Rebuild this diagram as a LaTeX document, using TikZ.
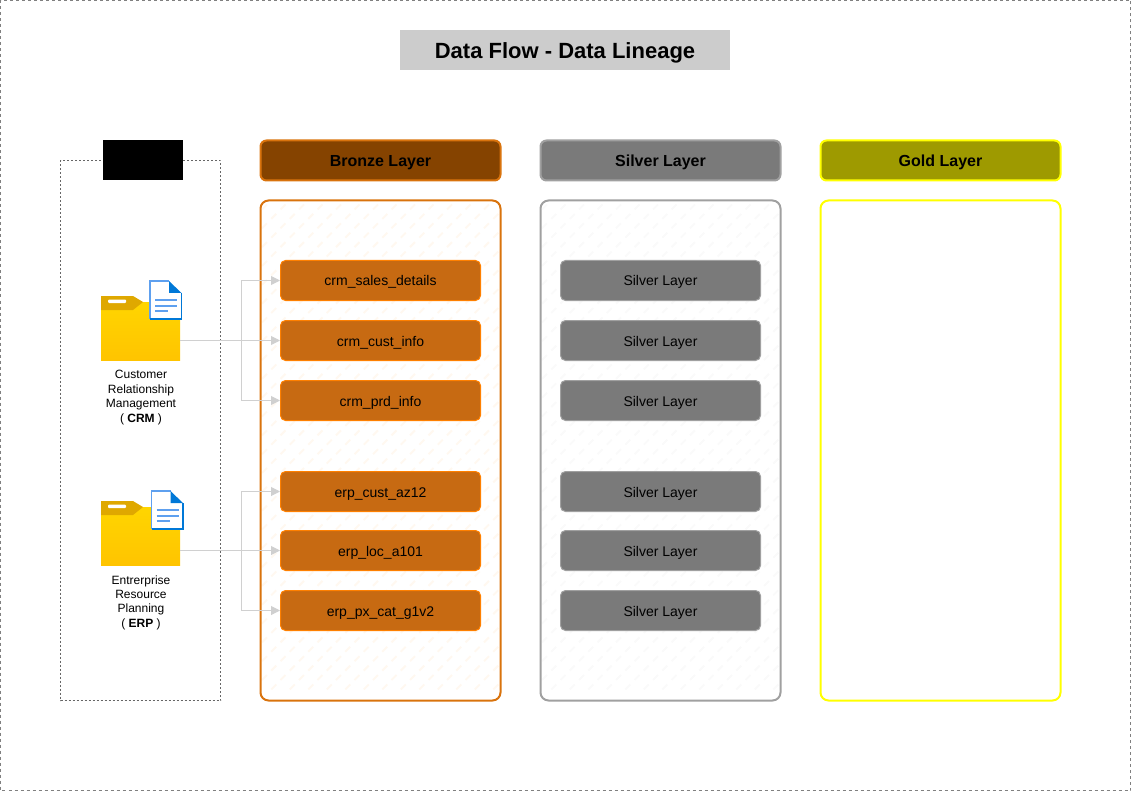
\documentclass[tikz,border=0pt]{standalone}
\usepackage{fontspec}
\setmainfont{Liberation Sans}
\usetikzlibrary{positioning}
\usetikzlibrary{arrows.meta}
\definecolor{bronzefill}{HTML}{854300}
\definecolor{bronzeitem}{HTML}{C76A12}
\definecolor{bronzeline}{HTML}{D9730D}
\definecolor{silverfill}{HTML}{7A7A7A}
\definecolor{silverline}{HTML}{A0A0A0}
\definecolor{goldfill}{HTML}{9E9A00}
\definecolor{goldline}{HTML}{FFFF00}
\definecolor{flowgray}{HTML}{D0D0D0}
\definecolor{tabgold}{HTML}{DFA800}
\definecolor{foldertop}{HTML}{FFD500}
\definecolor{folderlow}{HTML}{FFC400}
\definecolor{docblue}{HTML}{0078D7}
\definecolor{lineblue}{HTML}{5EA0EF}
\definecolor{hatchbronze}{HTML}{FFF8F0}
\definecolor{hatchsilver}{HTML}{FAFAFA}
\tikzset{
  layerhead/.style={draw,line width=2pt,rounded corners=6pt,minimum width=240pt,minimum height=40pt,inner sep=0pt,text height=12pt,text depth=0pt,font=\fontsize{16}{19}\selectfont\bfseries},
  layerpanel/.style={draw,line width=2pt,rounded corners=8pt,minimum width=240pt,minimum height=500pt,inner sep=0pt},
  bronzeitembox/.style={draw=orange,fill=bronzeitem,line width=1pt,rounded corners=5pt,minimum width=200pt,minimum height=40pt,inner sep=0pt,text height=11pt,text depth=0pt,font=\fontsize{14}{17}\selectfont},
  silveritembox/.style={draw=silverline,fill=silverfill,line width=1pt,rounded corners=5pt,minimum width=200pt,minimum height=40pt,inner sep=0pt,text height=11pt,text depth=0pt,font=\fontsize{14}{17}\selectfont},
  flow/.style={draw=flowgray,line width=1pt,-{Triangle[length=9pt,width=9pt]}},
  folderbox/.style={minimum width=79pt,minimum height=64pt,inner sep=0pt},
  sourcetext/.style={align=center,font=\fontsize{12}{14.4}\selectfont},
}
% folder icon: folder top left x,y then document top left x,y
\newcommand{\foldericon}[4]{
  \begin{scope}[shift={(#1,#2)}]
    \shade[top color=foldertop,bottom color=folderlow] (0,6) -- (79,6) -- (79,64) -- (0,64) -- cycle;
    \fill[tabgold] (0,0) -- (32,0) -- (42,6) -- (32,14) -- (0,14) -- cycle;
    \fill[white,rounded corners=1pt] (7,3.5) rectangle (25,7);
  \end{scope}
  \begin{scope}[shift={(#3,#4)}]
    \fill[white] (0,0) -- (19,0) -- (31.5,12) -- (31.5,38) -- (0,38) -- cycle;
    \draw[lineblue,line width=1.5pt] (19,0) -- (0,0) -- (0,38);
    \draw[docblue,line width=1.5pt] (0,38) -- (31.5,38) -- (31.5,12);
    \fill[docblue] (19,0) -- (31.5,12) -- (19,12) -- cycle;
    \draw[lineblue,line width=2pt] (5,19) -- (27,19) (5,24.5) -- (27,24.5) (5,30) -- (18,30);
  \end{scope}
}
% light hatch inside a panel, every other row set off by half a step
\newcommand{\panelhatch}[2]{
  \foreach \j [evaluate=\j as \off using {9.25*mod(\j,2)}] in {0,...,51}
    \foreach \i in {0,...,12}
      \draw[#2,line width=2pt] (#1+\off+18.5*\i-2.5,207+9.41*\j+2.5) -- ++(5,-5);
}
\begin{document}
\begin{tikzpicture}[x=1pt,y=-1pt]
  \useasboundingbox (0,0) rectangle (1131,791);
  \draw[gray,line width=1pt,dash pattern=on 3pt off 3pt] (0.5,0.5) rectangle (1130.5,790.5);

  \node[fill=black!20,minimum width=330pt,minimum height=40pt,inner sep=0pt,text height=16pt,text depth=0pt,font=\fontsize{22}{26}\selectfont\bfseries] (title) at (565,50.5) {Data Flow - Data Lineage};

  % sources
  \draw[black!60,line width=0.75pt,dash pattern=on 2pt off 2pt] (60.5,160.5) rectangle (220.5,700.5);
  \node[fill=black,minimum width=80pt,minimum height=40pt,inner sep=0pt] (sources) at (143,160.5) {};

  % layers
  \foreach \x/\name/\label/\stroke/\body in {380/bronze/Bronze Layer/bronzeline/bronzefill, 660/silver/Silver Layer/silverline/silverfill, 940/gold/Gold Layer/goldline/goldfill}
    \node[layerhead,draw=\stroke,fill=\body] (\name head) at (\x+0.5,160.5) {\label};

  \panelhatch{264.5}{hatchbronze}
  \panelhatch{544.5}{hatchsilver}
  \foreach \x/\name/\stroke in {380/bronze/bronzeline, 660/silver/silverline, 940/gold/goldline}
    \node[layerpanel,draw=\stroke] (\name panel) at (\x+0.5,450.5) {};

  % folders
  \node[folderbox] (crmfolder) at (140.5,328) {};
  \node[folderbox] (erpfolder) at (140.5,533) {};
  \foldericon{101}{296}{150}{281}
  \foldericon{101}{501}{151.5}{491}
  \node[sourcetext] (crmtext) at (141,397.5) {Customer\\Relationship\\Management\\( \textbf{CRM} )};
  \node[sourcetext] (erptext) at (141,602.5) {Entrerprise\\Resource\\Planning\\( \textbf{ERP} )};

  % tables
  \foreach \y/\name/\label in {280.5/sales/crm\_sales\_details, 340.5/cust/crm\_cust\_info, 400.5/prd/crm\_prd\_info, 491.5/az/erp\_cust\_az12, 550.5/loc/erp\_loc\_a101, 610.5/px/erp\_px\_cat\_g1v2}
    \node[bronzeitembox] (\name) at (380.5,\y) {\label};
  \foreach \y/\name in {280.5/silvera, 340.5/silverb, 400.5/silverc, 491.5/silverd, 550.5/silvere, 610.5/silverf}
    \node[silveritembox] (\name) at (660.5,\y) {Silver Layer};

  % connectors
  \coordinate (crmbend) at (241,340.5);
  \coordinate (erpbend) at (241,550.5);
  \draw[flow] (crmfolder.east |- cust.west) -- (cust.west);
  \draw[flow] (erpfolder.east |- loc.west) -- (loc.west);
  \foreach \dest in {sales,prd}
    \draw[flow] (crmbend) |- (\dest.west);
  \foreach \dest in {az,px}
    \draw[flow] (erpbend) |- (\dest.west);
\end{tikzpicture}
\end{document}
